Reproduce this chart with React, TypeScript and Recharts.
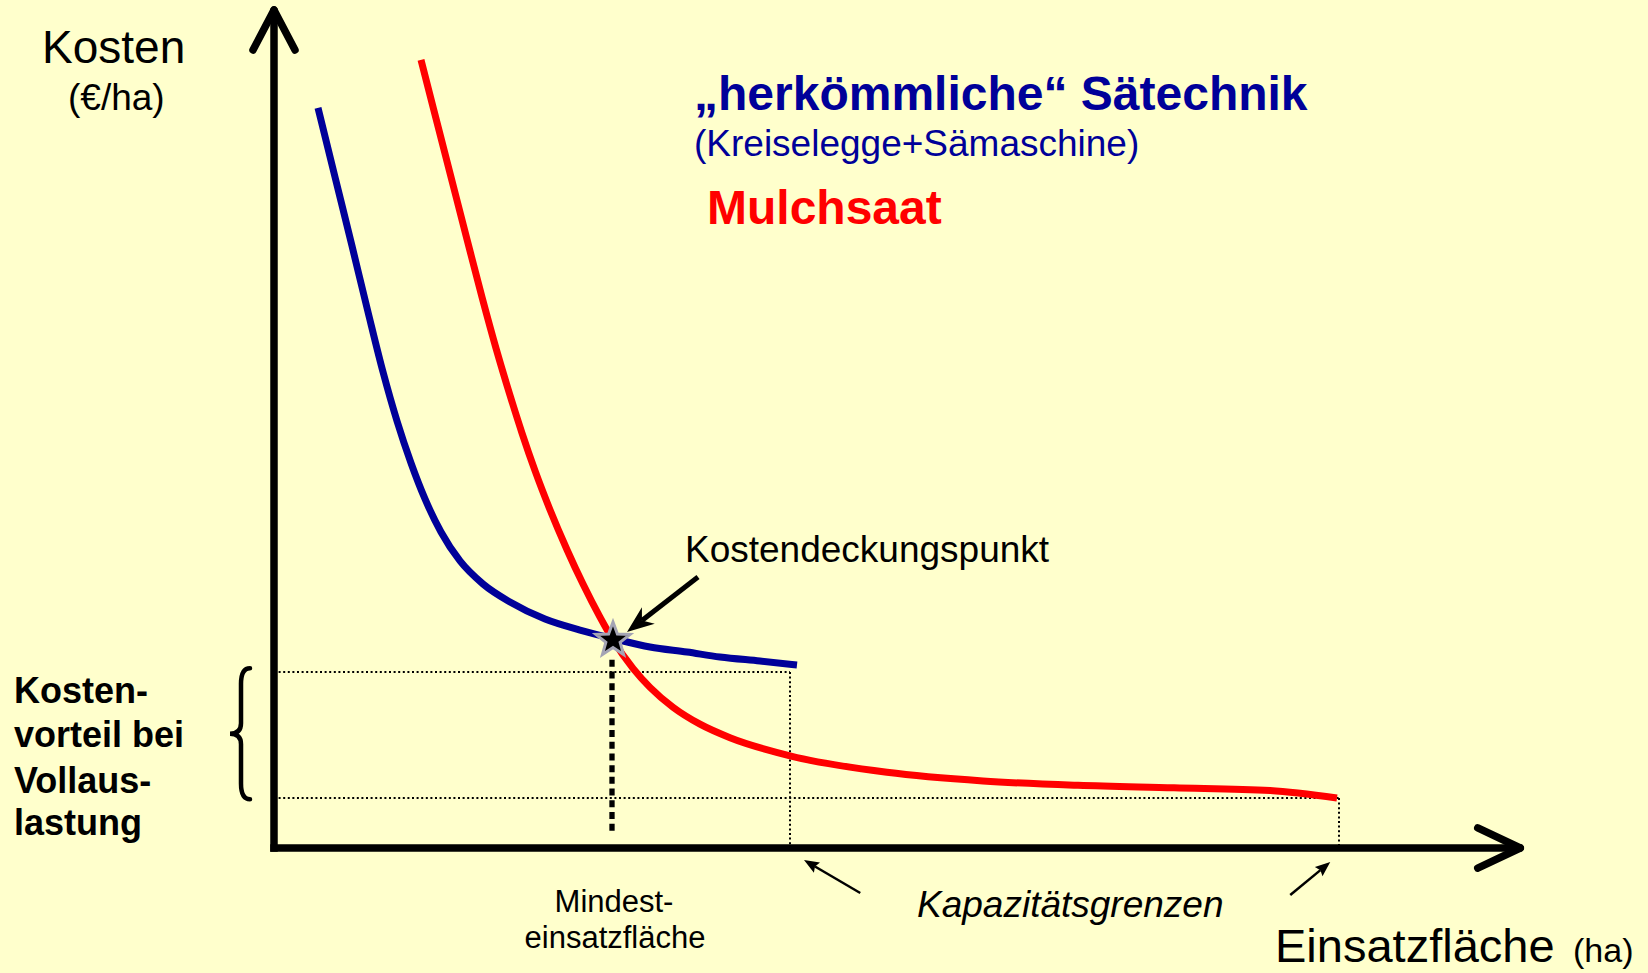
import React from "react";
import { LineChart, Line, XAxis, YAxis, ReferenceLine, ReferenceDot, ReferenceArea } from "recharts";

const W = 1648;
const H = 973;

// value frame: origin of the drawn axes sits at ha=0 / kosten=0
const X_DOMAIN: [number, number] = [-21.92, 109.92];
const Y_DOMAIN: [number, number] = [-14.88, 100.95];

// "herkömmliche" Sätechnik (Kreiselegge + Sämaschine)
const haHerkoemmlich = [3.52, 4.88, 6.24, 7.52, 8.72, 9.84, 10.96, 12.08, 13.36, 14.88, 16.72, 18.88, 21.68, 24.48, 27.28, 30.08, 33.04, 35.68, 38.88, 41.84];
const kostenHerkoemmlich = [88.1, 79.88, 71.67, 63.81, 56.67, 50.83, 45.83, 41.55, 37.62, 34.17, 31.43, 29.29, 27.26, 25.95, 24.88, 23.93, 23.33, 22.74, 22.26, 21.79];

// Mulchsaat
const haMulchsaat = [11.76, 12.72, 14.08, 15.44, 16.64, 17.76, 18.88, 19.84, 20.88, 22.08, 23.44, 24.72, 26.08, 27.12, 28.72, 30.08, 31.92, 34.08, 36.48, 41.36, 49.04, 56.72, 64.32, 72.0, 79.68, 85.04];
const kostenMulchsaat = [93.81, 88.24, 80.35, 72.45, 65.57, 59.49, 53.9, 49.4, 44.92, 40.27, 35.51, 31.42, 27.48, 24.76, 21.38, 19.12, 16.76, 14.74, 13.13, 10.95, 9.01, 7.98, 7.46, 7.17, 6.85, 5.95];

// key points
const kostendeckungspunkt = { ha: 27.12, kosten: 24.76 };
const mindestflaeche = { ha: 27.04, von: 22.4, bis: 1.8 };
const kapazitaetHerkoemmlich = { ha: 41.28, kosten: 20.95 };
const kapazitaetMulchsaat = { ha: 85.2, kosten: 5.95 };

const blueData = haHerkoemmlich.map((x, i) => ({ x, y: kostenHerkoemmlich[i] }));
const redData = haMulchsaat.map((x, i) => ({ x, y: kostenMulchsaat[i] }));

const FONT = '"Liberation Sans", Arial, Helvetica, sans-serif';
const BLUE = "#000099";
const RED = "#FF0000";

const plainLine = (w: number, cap: "round" | "square" | "butt", dash?: string) => (p: any) => (
  <line x1={p.x1} y1={p.y1} x2={p.x2} y2={p.y2} stroke="#000" strokeWidth={w} strokeLinecap={cap} strokeDasharray={dash} />
);

// shaft + filled (optionally notched) head, pointing at the second point
const arrowLine = (w: number, headLen: number, headW: number, notch: number) => (p: any) => {
  const dx = p.x2 - p.x1;
  const dy = p.y2 - p.y1;
  const len = Math.hypot(dx, dy) || 1;
  const ux = dx / len;
  const uy = dy / len;
  const nx = -uy;
  const ny = ux;
  const bx = p.x2 - ux * headLen;
  const by = p.y2 - uy * headLen;
  const mx = p.x2 - ux * headLen * (1 - notch);
  const my = p.y2 - uy * headLen * (1 - notch);
  const pts = [
    [p.x2, p.y2],
    [bx + (nx * headW) / 2, by + (ny * headW) / 2],
    [mx, my],
    [bx - (nx * headW) / 2, by - (ny * headW) / 2],
  ]
    .map((q) => q.join(","))
    .join(" ");
  return (
    <g>
      <line x1={p.x1} y1={p.y1} x2={mx} y2={my} stroke="#000" strokeWidth={w} />
      <polygon points={pts} fill="#000" />
    </g>
  );
};

const starShape = (p: any) => {
  const { cx, cy } = p;
  const outer = 18;
  const inner = 7.5;
  const pts: string[] = [];
  for (let i = 0; i < 10; i++) {
    const r = i % 2 === 0 ? outer : inner;
    const a = -Math.PI / 2 + (i * Math.PI) / 5;
    pts.push(`${cx + r * Math.cos(a)},${cy + r * Math.sin(a)}`);
  }
  return <polygon points={pts.join(" ")} fill="#000" stroke="#A4A4B4" strokeWidth={3} strokeLinejoin="miter" />;
};

const braceShape = (p: any) => {
  const { x, y, width: w, height: h } = p;
  const bx = x + w * 0.55;
  const mid = y + h / 2;
  const d = [
    `M ${x + w} ${y}`,
    `Q ${bx} ${y} ${bx} ${y + h * 0.12}`,
    `L ${bx} ${mid - h * 0.08}`,
    `Q ${bx} ${mid} ${x} ${mid}`,
    `Q ${bx} ${mid} ${bx} ${mid + h * 0.08}`,
    `L ${bx} ${y + h - h * 0.12}`,
    `Q ${bx} ${y + h} ${x + w} ${y + h}`,
  ].join(" ");
  return <path d={d} fill="none" stroke="#000" strokeWidth={4.5} strokeLinecap="round" />;
};

export default function App() {
  const dotted = plainLine(2, "butt", "2 2.6");
  return (
    <div style={{ position: "absolute", left: 0, top: 0, width: W, height: H, background: "#FFFFCC", overflow: "hidden" }}>
      <LineChart width={W} height={H} margin={{ top: 0, right: 0, bottom: 0, left: 0 }}>
        <XAxis type="number" dataKey="x" domain={X_DOMAIN} hide allowDataOverflow />
        <YAxis type="number" dataKey="y" domain={Y_DOMAIN} hide allowDataOverflow />

        {/* dotted guide lines to the capacity limits */}
        <ReferenceLine segment={[{ x: 0, y: kapazitaetHerkoemmlich.kosten }, { x: kapazitaetHerkoemmlich.ha, y: kapazitaetHerkoemmlich.kosten }]} shape={dotted} />
        <ReferenceLine segment={[{ x: kapazitaetHerkoemmlich.ha, y: kapazitaetHerkoemmlich.kosten }, { x: kapazitaetHerkoemmlich.ha, y: 0 }]} shape={dotted} />
        <ReferenceLine segment={[{ x: 0, y: kapazitaetMulchsaat.kosten }, { x: kapazitaetMulchsaat.ha, y: kapazitaetMulchsaat.kosten }]} shape={dotted} />
        <ReferenceLine segment={[{ x: kapazitaetMulchsaat.ha, y: kapazitaetMulchsaat.kosten }, { x: kapazitaetMulchsaat.ha, y: 0 }]} shape={dotted} />

        {/* Mindesteinsatzfläche */}
        <ReferenceLine segment={[{ x: mindestflaeche.ha, y: mindestflaeche.von }, { x: mindestflaeche.ha, y: mindestflaeche.bis }]} shape={plainLine(5.3, "butt", "7 4.7")} />

        <Line data={redData} dataKey="y" type="monotone" stroke={RED} strokeWidth={7} strokeLinecap="butt" dot={false} activeDot={false} isAnimationActive={false} />
        <Line data={blueData} dataKey="y" type="monotone" stroke={BLUE} strokeWidth={7} strokeLinecap="butt" dot={false} activeDot={false} isAnimationActive={false} />

        <ReferenceDot x={kostendeckungspunkt.ha} y={kostendeckungspunkt.kosten} r={18} shape={starShape} />

        {/* axes with open arrow heads */}
        <ReferenceLine segment={[{ x: 0, y: 0 }, { x: 0, y: 99.0 }]} shape={plainLine(7.5, "square")} />
        <ReferenceLine segment={[{ x: 0, y: 0 }, { x: 99.0, y: 0 }]} shape={plainLine(7.5, "square")} />
        <ReferenceLine segment={[{ x: -1.68, y: 95.0 }, { x: 0, y: 99.76 }]} shape={plainLine(7.5, "round")} />
        <ReferenceLine segment={[{ x: 1.68, y: 95.0 }, { x: 0, y: 99.76 }]} shape={plainLine(7.5, "round")} />
        <ReferenceLine segment={[{ x: 96.3, y: 2.4 }, { x: 99.7, y: 0 }]} shape={plainLine(7.5, "round")} />
        <ReferenceLine segment={[{ x: 96.3, y: -2.4 }, { x: 99.7, y: 0 }]} shape={plainLine(7.5, "round")} />

        {/* pointer arrows */}
        <ReferenceLine segment={[{ x: 33.92, y: 32.26 }, { x: 28.24, y: 25.71 }]} shape={arrowLine(5, 27, 21, 0.3)} />
        <ReferenceLine segment={[{ x: 46.9, y: -5.36 }, { x: 42.4, y: -1.43 }]} shape={arrowLine(2.5, 15, 12, 0.15)} />
        <ReferenceLine segment={[{ x: 81.3, y: -5.6 }, { x: 84.5, y: -1.67 }]} shape={arrowLine(2.5, 15, 12, 0.15)} />

        {/* brace for the cost advantage */}
        <ReferenceArea x1={-3.52} x2={-1.92} y1={kapazitaetMulchsaat.kosten - 0.15} y2={kapazitaetHerkoemmlich.kosten + 0.45} shape={braceShape} />
      </LineChart>

      <svg width={W} height={H} style={{ position: "absolute", left: 0, top: 0, pointerEvents: "none" }} fontFamily={FONT}>
        <text x={42} y={63} fontSize={46} fill="#000">Kosten</text>
        <text x={68} y={110} fontSize={37} fill="#000">(€/ha)</text>

        <text x={694} y={110} fontSize={48} fontWeight="bold" fill={BLUE}>„herkömmliche“ Sätechnik</text>
        <text x={694} y={156} fontSize={37} fill={BLUE}>(Kreiselegge+Sämaschine)</text>
        <text x={707} y={224} fontSize={48} fontWeight="bold" fill={RED}>Mulchsaat</text>

        <text x={685} y={562} fontSize={37} fill="#000">Kostendeckungspunkt</text>

        <g fontSize={36} fontWeight="bold" fill="#000">
          <text x={14} y={703}>Kosten-</text>
          <text x={14} y={747}>vorteil bei</text>
          <text x={14} y={793}>Vollaus-</text>
          <text x={14} y={835}>lastung</text>
        </g>

        <g fontSize={31} fill="#000" textAnchor="middle">
          <text x={614} y={912}>Mindest-</text>
          <text x={615} y={948}>einsatzfläche</text>
        </g>

        <text x={917} y={917} fontSize={37} fontStyle="italic" fill="#000">Kapazitätsgrenzen</text>

        <text x={1275} y={962} fontSize={47} fill="#000">Einsatzfläche</text>
        <text x={1573} y={962} fontSize={34} fill="#000">(ha)</text>
      </svg>
    </div>
  );
}
